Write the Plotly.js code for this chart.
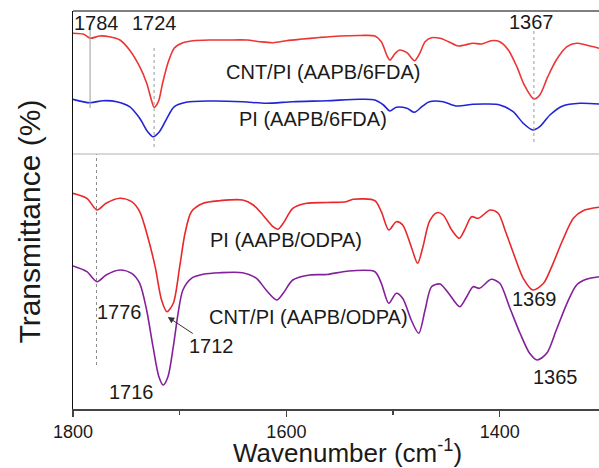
<!DOCTYPE html>
<html>
<head>
<meta charset="utf-8">
<script src="https://cdn.plot.ly/plotly-3.0.1.min.js"></script>
<style>html,body{margin:0;padding:0;background:#fff;}#chart{width:599px;height:468px;}</style>
</head>
<body>
<div id="chart"></div>
<script>
// ---- Data (wavenumber in cm^-1, transmittance in arbitrary offset units) ----
// Top panel: CNT/PI (AAPB/6FDA)
const wnCnt6fda = [1800,1790,1784,1775,1766,1756,1747,1737.5,1731,1726.5,1724,1720,1716,1711,1705,1697,1687.5,1672,1656,1637,1625,1612.5,1600,1587.5,1569,1550,1531,1517,1511,1506,1503,1498,1494,1487,1480,1475,1470,1464,1456,1448,1439,1433,1425,1417,1408,1400,1392,1384,1377,1368,1362.5,1355,1347,1337,1328,1319,1307];
const tCnt6fda  = [120.7,119.7,115.7,118,117.3,114,104,87.3,71,54,46.7,52.3,71,91,106,111.3,113.3,114,114,114,112.3,111.3,113.3,114.7,116.5,118,118.5,118,112.3,99,94,100.7,104,101.3,93.3,100.7,112.3,116.3,115.7,112.3,108,109,110.7,110,113.3,112.3,104,87.3,69,55,59,77.3,94,107.3,110.7,109,105.7];
// Top panel: PI (AAPB/6FDA)
const wnPi6fda = [1800,1784,1772,1759,1747,1737.5,1730,1725,1719,1712,1705,1694,1672,1641,1619,1594,1562,1531,1517,1509,1503,1497,1487,1480,1473,1466,1453,1441,1425,1412,1400,1387.5,1378,1369,1362.5,1353,1341,1325,1307];
const tPi6fda  = [54.7,51.3,53.3,52.3,47.3,35.7,22.3,17.3,22.3,35.7,47.3,51.7,53,52.3,50.7,52.3,53.3,54.7,54,49,43,46.7,45.7,41.7,47.3,52.3,52.3,48,49.7,50,49,42.3,30.7,24,27.3,39,48,50.7,50];
// Bottom panel: PI (AAPB/ODPA)
const wnPiOdpa = [1800,1787,1777.5,1769,1756,1745,1737.5,1730,1723,1717,1712,1706,1700,1695,1689,1678,1662.5,1641,1631,1622,1612.5,1608,1603,1594,1581,1562,1544,1537.5,1517,1511,1504,1497,1491,1483,1477,1472,1466,1459,1453,1445,1438,1433,1426.5,1420,1409,1401.5,1394,1386,1378,1369,1359,1350,1341,1331,1322,1307];
const tPiOdpa  = [215.7,210.7,199,205.7,210.7,207.3,197.3,172.3,142.3,109,97.3,105.7,142.3,175.7,197.3,205.7,208.3,209,204,194,182.3,179.7,185.7,200.7,205.7,206.5,207.3,209.7,208.3,197.3,179,187.3,184,162.3,145.7,162.3,187.3,196.3,194,179,170.7,179,192.3,190.7,199,195.7,175.7,152.3,130.7,119,125.7,145.7,169,190.7,198.3,201.7];
// Bottom panel: CNT/PI (AAPB/ODPA)
const wnCntOdpa = [1800,1787,1777.5,1769,1756,1745,1737.5,1731,1725,1719.5,1715.5,1711,1706,1701.5,1697,1689,1678,1662.5,1641,1628,1619,1609,1603,1594,1578,1562,1547,1537.5,1517,1511,1504,1497,1491,1483,1476,1470,1464,1456,1448,1437.5,1431,1425,1419,1408,1400,1391,1381,1372,1365,1356,1347,1337,1328,1319,1307];
const tCntOdpa  = [143,137.3,127.3,134,139,135.7,125.7,99,62.3,32.3,24,32.3,62.3,95.7,119,130.7,134.7,136.3,136.3,130.7,119,109,115.7,129,134,134.5,137.3,138.3,137.3,125.7,105.7,115.7,110.7,89,75.7,99,122.3,125,115.7,102.3,112.3,122.3,120.7,129.7,125.7,102.3,75.7,55.7,49,55.7,79,105.7,124,129.7,132.3];

// Peak marker lines
const topMarkerX = [1784, 1724, 1368];
const topMarkerY0 = [46, 7, 12];
const topMarkerY1 = [126, 109, 124];
const botMarkerX = [1778];
const botMarkerY0 = [44];
const botMarkerY1 = [256];

// Tick labels
const tickVals = [1800, 1600, 1400];
const tickText = ['1800', '1600', '1400'];

const FONT = 'Liberation Sans, Arial, sans-serif';
const TXT = '#1a1a1a';
const split = 255 / 398;

function line(x, y, color, ax) {
  return {x: x, y: y, type: 'scatter', mode: 'lines', xaxis: 'x', yaxis: ax,
          line: {color: color, width: 1.6, shape: 'spline', smoothing: 0.8},
          hoverinfo: 'skip', showlegend: false};
}

const traces = [
  line(wnCnt6fda, tCnt6fda, '#ec3535', 'y2'),
  line(wnPi6fda, tPi6fda, '#2323d6', 'y2'),
  line(wnPiOdpa, tPiOdpa, '#e8282a', 'y'),
  line(wnCntOdpa, tCntOdpa, '#84209c', 'y')
];

const shapes = [];
topMarkerX.forEach((x, i) => shapes.push({type: 'line', xref: 'x', yref: 'y2', x0: x, x1: x,
  y0: topMarkerY0[i], y1: topMarkerY1[i], line: {color: '#9a9a9a', width: 1, dash: i === 0 ? 'solid' : 'dot'}}));
botMarkerX.forEach((x, i) => shapes.push({type: 'line', xref: 'x', yref: 'y', x0: x, x1: x,
  y0: botMarkerY0[i], y1: botMarkerY1[i], line: {color: '#8a8a8a', width: 1, dash: 'dot'}}));
// panel frame lines
shapes.push({type: 'line', xref: 'paper', yref: 'paper', x0: 0, x1: 1, y0: 1, y1: 1, line: {color: '#555', width: 1.5}});
shapes.push({type: 'line', xref: 'paper', yref: 'paper', x0: 0, x1: 1, y0: split, y1: split, line: {color: '#b0b0b0', width: 1}});

function ann(text, x, y, yref, extra) {
  return Object.assign({text: text, x: x, y: y, xref: 'x', yref: yref, showarrow: false,
    xanchor: 'center', yanchor: 'middle', font: {family: FONT, size: 20, color: TXT}}, extra || {});
}

const annotations = [
  ann('1784', 1778, 131, 'y2'),
  ann('1724', 1723.4, 131, 'y2'),
  ann('1367', 1370, 132, 'y2'),
  ann('CNT/PI (AAPB/6FDA)', 1566, 82, 'y2'),
  ann('PI (AAPB/6FDA)', 1575.3, 35, 'y2'),
  ann('PI (AAPB/ODPA)', 1600.6, 169, 'y'),
  ann('CNT/PI (AAPB/ODPA)', 1579, 92, 'y'),
  ann('1776', 1756.2, 97, 'y'),
  ann('1716', 1744.9, 17, 'y'),
  ann('1369', 1367.5, 110, 'y'),
  ann('1365', 1347.8, 32, 'y'),
  ann('1712', 1711.2, 92, 'y', {showarrow: true, ax: 44, ay: 29, arrowhead: 2, arrowsize: 1.3,
    arrowwidth: 1, arrowcolor: '#333'}),
  {text: 'Wavenumber (cm<sup>-1</sup>)', xref: 'paper', yref: 'paper', x: 0.5228, y: -0.108,
   showarrow: false, xanchor: 'center', yanchor: 'middle', font: {family: FONT, size: 26, color: TXT}},
  {text: 'Transmittance (%)', xref: 'paper', yref: 'paper', x: -0.0817, y: 0.471, textangle: -90,
   showarrow: false, xanchor: 'center', yanchor: 'middle', font: {family: FONT, size: 30, color: TXT}}
];

const layout = {
  width: 599, height: 468,
  margin: {l: 73, r: 0, t: 11, b: 59, pad: 0},
  paper_bgcolor: '#fff', plot_bgcolor: '#fff',
  showlegend: false,
  xaxis: {range: [1800, 1307], autorange: false, anchor: 'y',
    tickvals: tickVals, ticktext: tickText, ticks: 'outside', ticklen: 6, tickwidth: 1.2, tickcolor: '#444',
    minor: {tickvals: [1700, 1500], ticks: 'outside', ticklen: 4, tickwidth: 1.2, tickcolor: '#444'},
    showline: true, linecolor: '#444', linewidth: 1.5, showgrid: false, zeroline: false,
    tickfont: {family: FONT, size: 18, color: TXT}},
  yaxis: {domain: [0, split], range: [0, 255], autorange: false, showticklabels: false, ticks: '',
    showline: true, linecolor: '#111', linewidth: 1.5, showgrid: false, zeroline: false},
  yaxis2: {domain: [split, 1], range: [0, 143], autorange: false, anchor: 'x', showticklabels: false, ticks: '',
    showline: true, linecolor: '#111', linewidth: 1.5, showgrid: false, zeroline: false},
  shapes: shapes,
  annotations: annotations
};

Plotly.newPlot('chart', traces, layout, {staticPlot: true, displayModeBar: false});
</script>
</body>
</html>
